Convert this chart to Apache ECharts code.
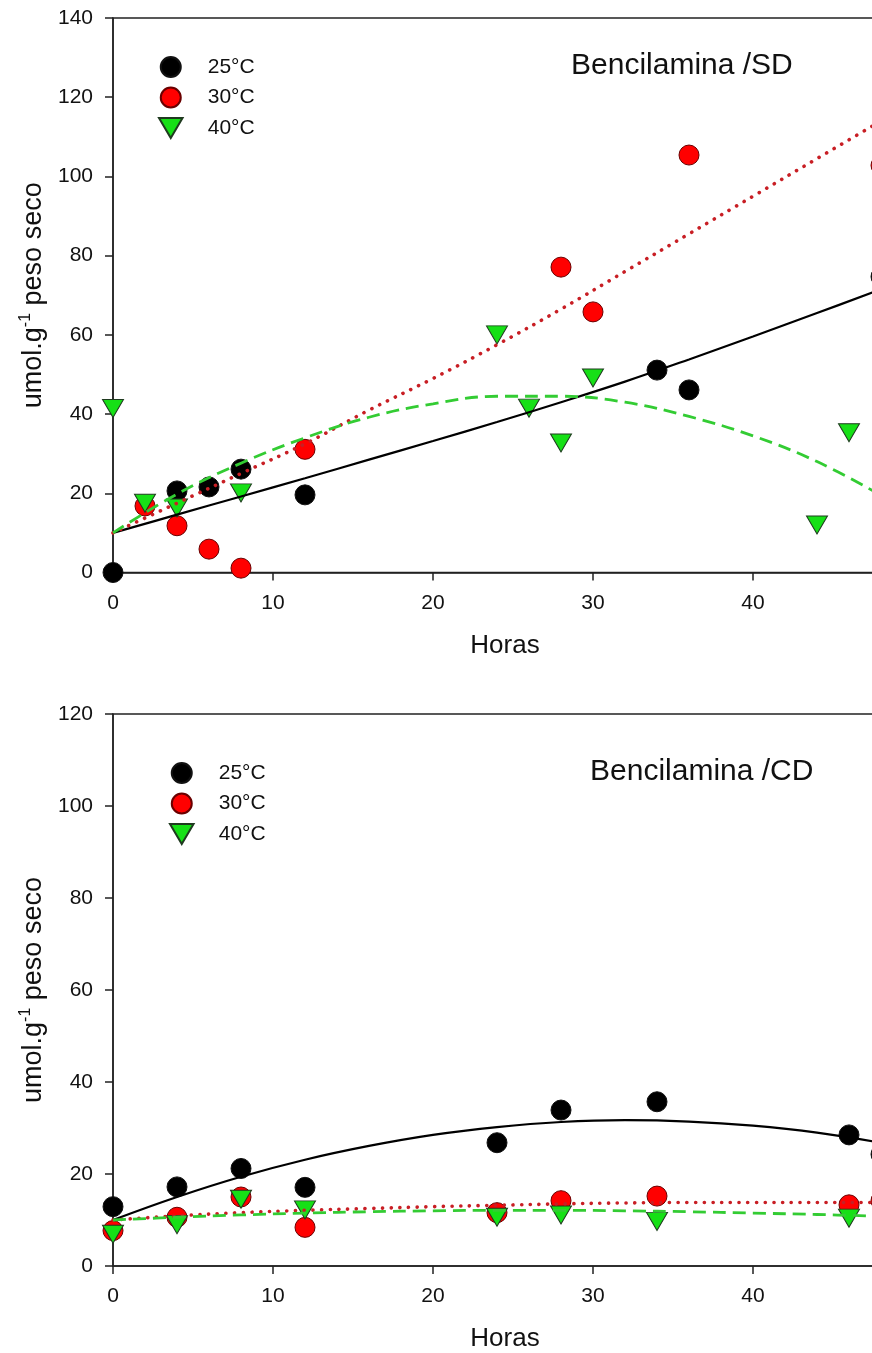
<!DOCTYPE html>
<html>
<head>
<meta charset="utf-8">
<script src="https://cdn.jsdelivr.net/npm/echarts@6/dist/echarts.min.js"></script>
<style>
  html, body { margin: 0; padding: 0; overflow: hidden; background: #fff; }
  #chart { width: 940px; height: 1353px; }
</style>
</head>
<body>
<div id="chart"></div>
<script>
// Temperatures shown in both panels
const temps = ['25°C', '30°C', '40°C'];

// Panel 1: Bencilamina /SD — measured points
const sdHours25 = [0, 4, 6, 8, 12, 34, 36, 48];
const sd25 = [0, 20.6, 21.6, 26.1, 19.6, 51.1, 46.1, 74.7];
const sdHours30 = [2, 4, 6, 8, 12, 28, 30, 36, 48];
const sd30 = [16.8, 11.8, 5.9, 1.1, 31.1, 77.1, 65.8, 105.4, 102.8];
const sdHours40 = [0, 2, 4, 8, 24, 26, 28, 30, 44, 46];
const sd40 = [41.4, 17.5, 16.3, 20.1, 60.0, 41.5, 32.7, 49.1, 12.0, 35.3];

// Panel 2: Bencilamina /CD — measured points
const cdHours = [0, 4, 8, 12, 24, 28, 34, 46, 48];
const cd25 = [12.9, 17.2, 21.2, 17.1, 26.8, 33.9, 35.7, 28.5, 24.3];
const cd30 = [7.7, 10.6, 15.0, 8.4, 11.6, 14.2, 15.2, 13.3, 14.2];
const cdHours40 = [0, 4, 8, 12, 24, 28, 34, 46];
const cd40 = [6.9, 9.0, 14.5, 12.2, 10.6, 11.1, 9.7, 10.4];

// Fitted curves, sampled every 4 h
const fitHours = [0, 4, 8, 12, 16, 20, 24, 28, 32, 36, 40, 44, 48];
const fitSD25 = [10, 14.6, 19.2, 23.8, 28.5, 33.2, 38.0, 43.0, 48.2, 53.8, 59.6, 65.5, 71.5];
const fitSD30 = [10, 17.5, 25.0, 32.5, 41.0, 49.0, 57.5, 66.5, 76.0, 85.5, 95.0, 104.5, 114.0];
const fitSD40 = [10, 19.8, 27.6, 34.0, 39.2, 42.6, 44.5, 44.5, 43.0, 39.4, 34.5, 28.0, 19.5];
const fitCD25 = [10, 15.0, 19.4, 23.1, 26.1, 28.5, 30.2, 31.3, 31.7, 31.4, 30.5, 29.0, 26.8];
const fitCD30 = [10, 10.9, 11.6, 12.1, 12.5, 12.9, 13.2, 13.5, 13.7, 13.8, 13.8, 13.8, 13.8];
const fitCD40 = [10, 10.6, 11.1, 11.5, 11.8, 12.0, 12.1, 12.1, 12.0, 11.8, 11.5, 11.2, 10.8];

// Axis ticks
const xTicks = { min: 0, max: 50, interval: 10 };
const yTicksSD = { min: 0, max: 140, interval: 20 };
const yTicksCD = { min: 0, max: 120, interval: 20 };

const panelTitles = ['Bencilamina /SD', 'Bencilamina /CD'];
const xTitle = 'Horas';

const FONT = '"Liberation Sans", Arial, sans-serif';
const INK = '#111';
const AXIS = '#222';
const DOWN_TRI = 'path://M0,0L20,0L10,17Z';

const markerStyle = [
  { symbol: 'circle', size: 20, itemStyle: { color: '#000', borderColor: '#111', borderWidth: 1, opacity: 1 } },
  { symbol: 'circle', size: 20, itemStyle: { color: '#ff0000', borderColor: '#6a0000', borderWidth: 1, opacity: 1 } },
  { symbol: DOWN_TRI, size: [21, 18], itemStyle: { color: '#16e016', borderColor: '#1f3a1f', borderWidth: 1, opacity: 1 } }
];
const fitStyle = [
  { color: '#000', width: 2.2, type: 'solid' },
  { color: '#c81e24', width: 3.6, type: [0.1, 8.6], cap: 'round' },
  { color: '#33cc33', width: 2.8, type: [13, 7] }
];

const pairs = (xs, ys) => xs.map((x, i) => [x, ys[i]]);

function scatter(name, gi, xs, ys, ti) {
  const m = markerStyle[ti];
  return {
    type: 'scatter', name, xAxisIndex: gi, yAxisIndex: gi,
    data: pairs(xs, ys), symbol: m.symbol, symbolSize: m.size,
    itemStyle: m.itemStyle, clip: false, z: 3 + ti, silent: true
  };
}
function fit(name, gi, ys, ti) {
  return {
    type: 'line', name: name + ' ajuste', xAxisIndex: gi, yAxisIndex: gi,
    data: pairs(fitHours, ys), smooth: 0.4, showSymbol: false,
    lineStyle: fitStyle[ti], z: 8, silent: true
  };
}

const grids = [
  { left: 113, top: 18, width: 800, height: 554.5 },
  { left: 113, top: 714, width: 800, height: 553 }
];

function xAxis(gi) {
  return {
    type: 'value', gridIndex: gi, min: xTicks.min, max: xTicks.max, interval: xTicks.interval,
    name: xTitle, nameLocation: 'middle', nameGap: 60,
    nameTextStyle: { fontSize: 26, fontFamily: FONT, color: INK, padding: [0, 16, 0, 0] },
    axisLine: { lineStyle: { color: AXIS, width: 1.5 } },
    axisTick: { length: 8, lineStyle: { color: AXIS, width: 1.5 } },
    axisLabel: { fontSize: 21, fontFamily: FONT, color: INK, margin: 20 },
    splitLine: { show: false }
  };
}
function yAxis(gi, t) {
  return {
    type: 'value', gridIndex: gi, min: t.min, max: t.max, interval: t.interval,
    name: '{a|umol.g}{s|-1}{a| peso seco}', nameLocation: 'middle', nameRotate: 90, nameGap: 59,
    nameTextStyle: {
      color: INK,
      rich: {
        a: { fontSize: 27, fontFamily: FONT, color: INK, lineHeight: 32 },
        s: { fontSize: 16, fontFamily: FONT, color: INK, verticalAlign: 'top' }
      }
    },
    axisLine: { show: true, lineStyle: { color: AXIS, width: 1.5 } },
    axisTick: { show: true, length: 8, lineStyle: { color: AXIS, width: 1.5 } },
    axisLabel: { fontSize: 21, fontFamily: FONT, color: INK, margin: 20 },
    splitLine: { show: false }
  };
}
function legend(left, top) {
  return {
    orient: 'vertical', left, top, itemWidth: 64, itemHeight: 20, itemGap: 8.5,
    selectedMode: false,
    textStyle: { fontSize: 21, fontFamily: FONT, color: INK, lineHeight: 20 },
    data: [
      { name: temps[0], icon: 'circle' },
      { name: temps[1], icon: 'circle' },
      { name: temps[2], icon: DOWN_TRI }
    ]
  };
}

const option = {
  animation: false,
  backgroundColor: '#fff',
  title: [
    { text: panelTitles[0], left: 566, top: 46, textStyle: { fontSize: 30, fontWeight: 'normal', fontFamily: FONT, color: INK } },
    { text: panelTitles[1], left: 585, top: 752, textStyle: { fontSize: 30, fontWeight: 'normal', fontFamily: FONT, color: INK } }
  ],
  legend: [legend(153, 51), legend(164, 757)],
  grid: grids.map(g => Object.assign({ show: true, borderColor: AXIS, borderWidth: 1.5, backgroundColor: 'transparent' }, g)),
  xAxis: [xAxis(0), xAxis(1)],
  yAxis: [yAxis(0, yTicksSD), yAxis(1, yTicksCD)],
  series: [
    scatter(temps[0], 0, sdHours25, sd25, 0),
    scatter(temps[1], 0, sdHours30, sd30, 1),
    scatter(temps[2], 0, sdHours40, sd40, 2),
    fit(temps[0], 0, fitSD25, 0),
    fit(temps[1], 0, fitSD30, 1),
    fit(temps[2], 0, fitSD40, 2),
    scatter(temps[0], 1, cdHours, cd25, 0),
    scatter(temps[1], 1, cdHours, cd30, 1),
    scatter(temps[2], 1, cdHours40, cd40, 2),
    fit(temps[0], 1, fitCD25, 0),
    fit(temps[1], 1, fitCD30, 1),
    fit(temps[2], 1, fitCD40, 2)
  ]
};

const chart = echarts.init(document.getElementById('chart'), null, { renderer: 'canvas' });
chart.setOption(option);
</script>
</body>
</html>
